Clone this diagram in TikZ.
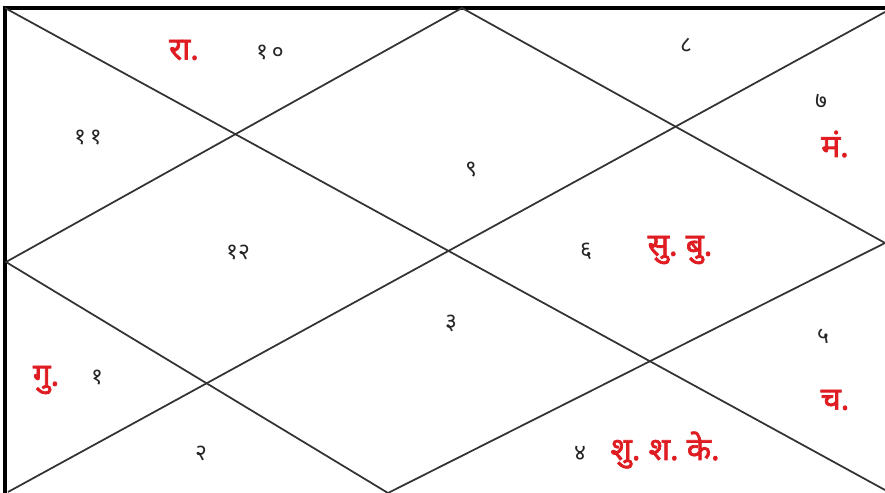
\documentclass[tikz,border=0pt]{standalone}
\usepackage{fontspec}
\newfontfamily\devfont[Script=Devanagari, BoldFont={Noto Sans}, BoldFeatures={FakeBold=2.2}]{Noto Sans}
\usetikzlibrary{positioning}
\definecolor{grahared}{RGB}{222,28,34}
\tikzset{
  housenum/.style={font=\devfont\fontsize{13}{15}\selectfont, text=black!85, inner sep=1pt},
  graha/.style={font=\devfont\bfseries\fontsize{18}{21}\selectfont, text=grahared, inner sep=1pt},
  chartline/.style={draw=black!80, line width=1pt},
  frameline/.style={draw=black, line width=2.2pt},
}
\begin{document}
\begin{tikzpicture}[x=0.02cm, y=-0.02cm]
\useasboundingbox (0,0) rectangle (885,493);

% --- Chart corners and diamond vertices ---
\coordinate (tl) at (5,8);
\coordinate (tr) at (885,8);
\coordinate (bl) at (5,493);
\coordinate (dgA) at (885,490); % end of main diagonal
\coordinate (dgB) at (8,492);   % start of anti-diagonal
\coordinate (dgC) at (885,12);
\coordinate (dtop) at (462,8);
\coordinate (drgt) at (885,243);
\coordinate (dbot) at (388,493);
\coordinate (dlft) at (6,262);

% --- Frame (left and top edges) ---
\draw[frameline] (bl) -- (tl) -- (tr);

% --- Diagonals ---
\draw[chartline] (tl) -- (dgA);
\draw[chartline] (dgB) -- (dgC);

% --- Inner diamond ---
\draw[chartline] (dtop) -- (drgt) -- (dbot) -- (dlft) -- cycle;

% --- House numbers ---
\node[housenum] (h1)  at (97,378)  {१};
\node[housenum] (h2)  at (201,453) {२};
\node[housenum] (h3)  at (451,323) {३};
\node[housenum] (h4)  at (580,453) {४};
\node[housenum] (h5)  at (823,336) {५};
\node[housenum] (h6)  at (586,251) {६};
\node[housenum] (h7)  at (821,101) {७};
\node[housenum] (h8)  at (686,45)  {८};
\node[housenum] (h9)  at (471,170) {९};
\node[housenum] (h10) at (270,53)  {१\,०};
\node[housenum] (h11) at (88,138)  {१\,१};
\node[housenum] (h12) at (238,253) {१२};

% --- Planets ---
\node[graha] (ra) at (184,50)  {रा.};
\node[graha] (ma) at (835,144) {मं.};
\node[graha] (subu) at (680,250) {सु.\ बु.};
\node[graha] (gu) at (46,380)  {गु.};
\node[graha] (ch) at (835,400) {च.};
\node[graha] (shu) at (665,450) {शु.\ श.\ के.};

\end{tikzpicture}
\end{document}
